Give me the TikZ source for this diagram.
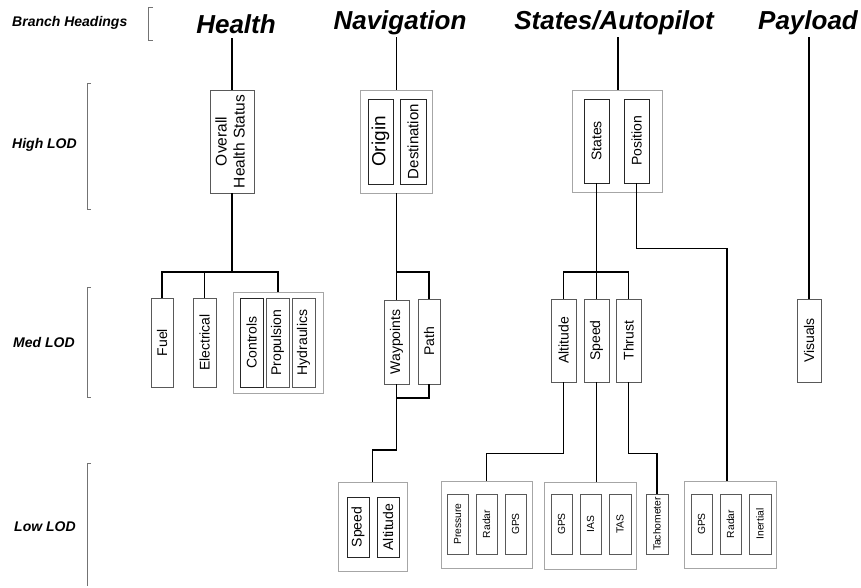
\documentclass[tikz,border=0pt]{standalone}
\usepackage{graphicx}
\usepackage{fontspec}
\setmainfont{Liberation Sans}
\usetikzlibrary{positioning}

\newcommand{\uptext}[1]{\rotatebox{90}{#1}}
\tikzset{wh/.style 2 args={minimum width=#1, minimum height=#2}}

\begin{document}
\begin{tikzpicture}[x=1pt, y=-1pt]

\tikzstyle{head}=[font=\bfseries\itshape\fontsize{26}{30}\selectfont, inner sep=0pt, anchor=base, text depth=0pt]
\tikzstyle{lod}=[font=\bfseries\itshape\fontsize{14}{16}\selectfont, inner sep=0pt, anchor=west]
\tikzstyle{box}=[draw=black!65, line width=0.9pt, inner sep=0pt, font=\fontsize{14}{16}\selectfont]
\tikzstyle{inbox}=[box, draw=black!85]
\tikzstyle{small}=[box, font=\fontsize{10.3}{12}\selectfont]
\tikzstyle{group}=[draw=black!35, line width=0.9pt, inner sep=0pt]
\tikzstyle{link}=[line width=1.4pt, black]
\tikzstyle{bracket}=[draw=black!55, line width=1pt]

\useasboundingbox (0,0) rectangle (861,587);

% level labels and brackets
\node[lod] (lbranch) at (12,23)  {Branch Headings};
\node[lod] (lhigh)   at (12,145) {High LOD};
\node[lod] (lmed)    at (13,342) {Med LOD};
\node[lod] (llow)    at (14,527) {Low LOD};
\draw[bracket] (153,7) -- (148,7) -- (148,40) -- (153,40);
\draw[bracket] (91,83) -- (87,83) -- (87,209) -- (91,209);
\draw[bracket] (91,287) -- (87,287) -- (87,397) -- (91,397);
\draw[bracket] (91,463) -- (87,463) -- (87,586);

% headings
\node[head] (health) at (236,33) {Health};
\node[head] (nav)    at (400,29) {Navigation};
\node[head] (state)  at (614,29) {States/Autopilot};
\node[head] (pay)    at (808,29) {Payload};

% health branch
\node[box, wh={44pt}{103pt}, font=\fontsize{15.5}{18}\selectfont] (ohs) at (232,141.5)
    {\uptext{\begin{tabular}{@{}c@{}}Overall\\Health Status\end{tabular}}};
\node[box, wh={22pt}{89pt}] (fuel) at (162,342.5) {\uptext{Fuel}};
\node[box, wh={23pt}{89pt}] (elec) at (204.5,342.5) {\uptext{Electrical}};
\node[group, wh={90pt}{101pt}] (sysgrp) at (278,342.5) {};
\node[inbox, wh={23pt}{89pt}] (ctrl) at (251.5,342.5) {\uptext{Controls}};
\node[box, wh={23pt}{89pt}] (prop) at (277.5,342.5) {\uptext{Propulsion}};
\node[box, wh={23pt}{89pt}] (hyd)  at (303.5,342.5) {\uptext{Hydraulics}};
\coordinate (hbar) at (232,272);

\draw[link, shorten <=5pt] (health.south -| ohs.north) -- (ohs.north);
\draw[link] (ohs.south) -- (hbar);
\draw[link] (fuel.north) |- (hbar) -| (sysgrp.north);
\draw[link] (elec.north) -- (elec.north |- hbar);

% navigation branch
\node[group, wh={72pt}{103pt}] (navgrp) at (396.5,141.5) {};
\node[inbox, wh={25pt}{85pt}, font=\fontsize{19}{22}\selectfont] (orig) at (380.5,141.5) {\uptext{Origin}};
\node[inbox, wh={26pt}{85pt}, font=\fontsize{15}{18}\selectfont] (dest) at (413,141.5) {\uptext{Destination}};
\node[box, wh={25pt}{84pt}] (way)  at (396.5,342) {\uptext{Waypoints}};
\node[box, wh={22pt}{85pt}] (path) at (429,341.5) {\uptext{Path}};
\node[group, wh={69pt}{89pt}] (lownav) at (372.5,526.5) {};
\node[inbox, wh={22pt}{60pt}] (nspeed) at (358,527) {\uptext{Speed}};
\node[inbox, wh={22pt}{60pt}] (nalt)   at (388,527) {\uptext{Altitude}};
\coordinate (nbar) at (396.5,272);
\coordinate (nlow) at (396.5,398);

\draw[link, shorten <=8pt] (nav.south -| navgrp.north) -- (navgrp.north);
\draw[link] (navgrp.south) -- (way.north);
\draw[link] (nbar) -| (path.north);
\draw[link] (way.south) -- (nlow) -| (path.south);
\draw[link] (nlow) -- ++(0,52) -| (lownav.north);

% states/autopilot branch
\node[group, wh={90pt}{102pt}] (stgrp) at (617,141) {};
\node[inbox, wh={25pt}{84pt}] (states) at (596.5,141) {\uptext{States}};
\node[inbox, wh={25pt}{84pt}] (pos)    at (636.5,141) {\uptext{Position}};
\node[box, wh={25pt}{83pt}] (alt) at (563.5,340.5) {\uptext{Altitude}};
\node[box, wh={25pt}{83pt}] (spd) at (596.5,340.5) {\uptext{Speed}};
\node[box, wh={25pt}{83pt}] (thr) at (628.5,340.5) {\uptext{Thrust}};
\coordinate (sbar) at (596.5,272);

\node[group, wh={91pt}{87pt}] (altgrp) at (486.5,524.5) {};
\node[small, wh={21pt}{60pt}] (apress) at (457.5,524) {\uptext{Pressure}};
\node[small, wh={21pt}{60pt}] (aradar) at (486.5,524) {\uptext{Radar}};
\node[small, wh={21pt}{60pt}] (agps)   at (515.5,524) {\uptext{GPS}};

\node[group, wh={92pt}{87pt}] (spdgrp) at (590,525.5) {};
\node[small, wh={21pt}{60pt}] (sgps) at (561.5,524) {\uptext{GPS}};
\node[small, wh={21pt}{60pt}] (sias) at (590.5,524) {\uptext{IAS}};
\node[small, wh={22pt}{60pt}] (stas) at (620,524) {\uptext{TAS}};

\node[small, wh={22pt}{60pt}] (tach) at (657,524) {\uptext{Tachometer}};

\node[group, wh={92pt}{87pt}] (posgrp) at (730,524.5) {};
\node[small, wh={21pt}{60pt}] (pgps)   at (701.5,524) {\uptext{GPS}};
\node[small, wh={21pt}{60pt}] (pradar) at (730.5,524) {\uptext{Radar}};
\node[small, wh={22pt}{60pt}] (pinert) at (760,524) {\uptext{Inertial}};

\draw[link, shorten <=8pt] (state.south -| 618,0) -- (stgrp.north -| 618,0);
\draw[link] (states.south) -- (spd.north);
\draw[link] (alt.north) |- (sbar) -| (thr.north);
\draw[link] (pos.south) -- ++(0,65) -| ([xshift=-3pt]posgrp.north);
\draw[link] (alt.south) -- ++(0,71) -| (altgrp.north);
\draw[link] (spd.south) -- (spd.south |- spdgrp.north);
\draw[link] (thr.south) -- ++(0,71) -| (tach.north);

% payload branch
\node[box, wh={24pt}{83pt}] (vis) at (809,340.5) {\uptext{Visuals}};
\draw[link, shorten <=8pt] (pay.south -| vis.north) -- (vis.north);

\end{tikzpicture}
\end{document}
